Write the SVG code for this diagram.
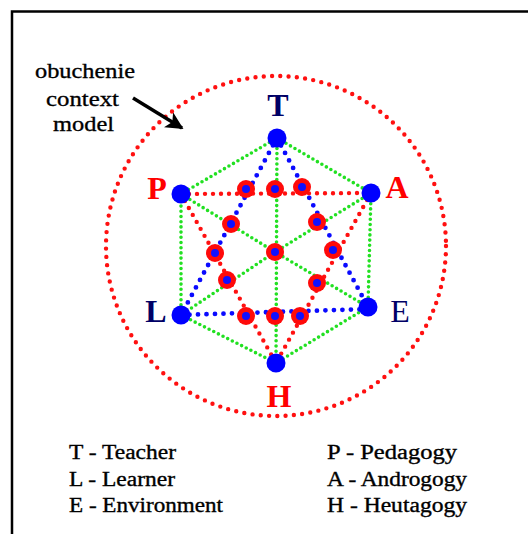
<svg xmlns="http://www.w3.org/2000/svg" width="528" height="534" viewBox="0 0 528 534">
<style>
.frame{fill:none;stroke:#000;stroke-width:2.5}
.ring{fill:none;stroke:#ff1010;stroke-width:4.4;stroke-linecap:round;stroke-dasharray:0 8.3}
.g{fill:none;stroke:#22e022;stroke-width:3.6;stroke-linecap:round;stroke-dasharray:0 5.2}
.r{fill:none;stroke:#ff1010;stroke-width:4.4;stroke-linecap:round;stroke-dasharray:0 8}
.b{fill:none;stroke:#0a0aff;stroke-width:4.8;stroke-linecap:round;stroke-dasharray:0 8.5}
.big{fill:#0000ff}
.rn{fill:#ff0a0a}
.bn{fill:#1010ff}
.lab{font-family:"Liberation Serif","Times New Roman",serif;font-size:32px;text-anchor:middle}
.red{fill:#ff0000;font-weight:bold}
.navy{fill:#000066}
.txt{font-family:"Liberation Serif","Times New Roman",serif;fill:#000;stroke:#000;stroke-width:0.35}
.ann{font-size:22px}
.leg{font-size:20px}
</style>
<defs>
<marker id="ah" viewBox="0 0 10 10" refX="9" refY="5" markerWidth="5" markerHeight="5" orient="auto" markerUnits="strokeWidth">
<path d="M0,0 L10,5 L0,10 L2.5,5 Z" fill="#000"/>
</marker>
</defs>
<rect x="0" y="0" width="528" height="534" fill="#fff"/>
<path class="frame" d="M12,534 V11.5 H528"/>
<g id="context-ring">
<circle class="ring" cx="276" cy="246" r="170"/>
</g>
<g id="connectors">
<path class="g" d="M277,138 L371,193 L368,307 L276,363 L181,315 L181,194 Z"/>
<path class="g" d="M277,138 L276,363"/>
<path class="g" d="M181,194 L275,252 L368,307"/>
<path class="g" d="M371,193 L275,252 L181,315"/>
<path class="r" d="M181,194 L371,193"/>
<path class="r" d="M181,194 L276,363"/>
<path class="r" d="M371,193 L276,363"/>
<path class="b" d="M277,138 L181,315"/>
<path class="b" d="M277,138 L368,307"/>
<path class="b" d="M181,315 L368,309"/>
<path d="M133,98 L182,128" stroke="#000" stroke-width="3.5" fill="none" marker-end="url(#ah)"/>
</g>
<g id="node-T"><circle class="big" cx="277" cy="138" r="9.5"/><text class="lab navy" x="278" y="116" font-weight="bold">T</text></g>
<g id="node-P"><circle class="big" cx="181" cy="194" r="9.5"/><text class="lab red" x="157" y="199">P</text></g>
<g id="node-A"><circle class="big" cx="371" cy="193" r="9.5"/><text class="lab red" x="397" y="198">A</text></g>
<g id="node-L"><circle class="big" cx="181" cy="315" r="9.5"/><text class="lab navy" x="156" y="322" font-weight="bold">L</text></g>
<g id="node-E"><circle class="big" cx="368" cy="307" r="9.5"/><text class="lab navy" x="400" y="322">E</text></g>
<g id="node-H"><circle class="big" cx="276" cy="363" r="9.5"/><text class="lab red" x="279" y="407">H</text></g>
<g id="intersections">
<g id="x1"><circle class="rn" cx="246" cy="189" r="9"/><circle class="bn" cx="246" cy="189" r="4"/></g>
<g id="x2"><circle class="rn" cx="275" cy="189" r="9"/><circle class="bn" cx="275" cy="189" r="4"/></g>
<g id="x3"><circle class="rn" cx="302" cy="187" r="9"/><circle class="bn" cx="302" cy="187" r="4"/></g>
<g id="x4"><circle class="rn" cx="231" cy="224" r="9"/><circle class="bn" cx="231" cy="224" r="4"/></g>
<g id="x5"><circle class="rn" cx="317" cy="222" r="9"/><circle class="bn" cx="317" cy="222" r="4"/></g>
<g id="x6"><circle class="rn" cx="215" cy="253" r="9"/><circle class="bn" cx="215" cy="253" r="4"/></g>
<g id="x7"><circle class="rn" cx="275" cy="252" r="9"/><circle class="bn" cx="275" cy="252" r="4"/></g>
<g id="x8"><circle class="rn" cx="333" cy="250" r="9"/><circle class="bn" cx="333" cy="250" r="4"/></g>
<g id="x9"><circle class="rn" cx="227" cy="280" r="9"/><circle class="bn" cx="227" cy="280" r="4"/></g>
<g id="x10"><circle class="rn" cx="317" cy="283" r="9"/><circle class="bn" cx="317" cy="283" r="4"/></g>
<g id="x11"><circle class="rn" cx="246" cy="316" r="9"/><circle class="bn" cx="246" cy="316" r="4"/></g>
<g id="x12"><circle class="rn" cx="275" cy="316" r="9"/><circle class="bn" cx="275" cy="316" r="4"/></g>
<g id="x13"><circle class="rn" cx="300" cy="316" r="9"/><circle class="bn" cx="300" cy="316" r="4"/></g>
</g>
<g id="annotation">
<text class="txt ann" x="35" y="78" textLength="100" lengthAdjust="spacingAndGlyphs">obuchenie</text>
<text class="txt ann" x="46" y="106" textLength="73" lengthAdjust="spacingAndGlyphs">context</text>
<text class="txt ann" x="53" y="131" textLength="61" lengthAdjust="spacingAndGlyphs">model</text>
</g>
<g id="legend">
<text class="txt leg" x="69" y="459" textLength="107" lengthAdjust="spacingAndGlyphs">T - Teacher</text>
<text class="txt leg" x="69" y="485.5" textLength="106" lengthAdjust="spacingAndGlyphs">L - Learner</text>
<text class="txt leg" x="69" y="511.5" textLength="154" lengthAdjust="spacingAndGlyphs">E - Environment</text>
<text class="txt leg" x="327" y="459" textLength="130" lengthAdjust="spacingAndGlyphs">P - Pedagogy</text>
<text class="txt leg" x="327" y="485.5" textLength="140" lengthAdjust="spacingAndGlyphs">A - Androgogy</text>
<text class="txt leg" x="327" y="511.5" textLength="140" lengthAdjust="spacingAndGlyphs">H - Heutagogy</text>
</g>
</svg>
